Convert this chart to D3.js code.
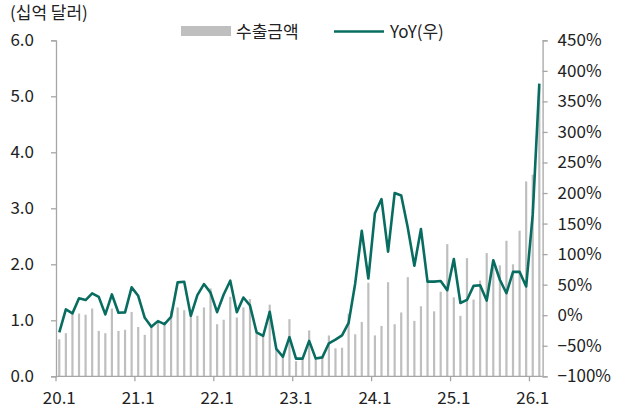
<!DOCTYPE html>
<html>
<head>
<meta charset="utf-8">
<script src="https://cdn.jsdelivr.net/npm/d3@7"></script>
<style>
  body { margin: 0; background: #fff; }
  text { font-family: "Noto Sans CJK KR", "Noto Sans", sans-serif; fill: #222; }
</style>
</head>
<body>
<div id="chart"></div>
<script>
// monthly labels 20.1 ~ 26.2
const months = [];
for (let y = 20; y <= 26; y++) {
  for (let m = 1; m <= 12; m++) {
    if (y === 26 && m > 2) break;
    months.push(y + "." + m);
  }
}

// export amount (billion USD)
const exports = [
  0.66, 0.77, 1.12, 1.12, 1.10, 1.21, 0.81, 0.77, 1.21, 0.81, 0.83, 1.15,
  0.88, 0.74, 0.88, 0.97, 0.94, 1.17, 1.23, 1.18, 1.15, 1.08, 1.23, 1.57,
  0.93, 1.01, 1.42, 1.05, 1.23, 1.38, 0.82, 0.74, 1.28, 0.48, 0.40, 1.02,
  0.27, 0.32, 0.82, 0.30, 0.36, 0.73, 0.50, 0.51, 1.12, 0.75, 0.97, 1.67,
  0.73, 0.90, 1.68, 0.93, 1.14, 1.77, 0.99, 1.25, 1.72, 1.16, 1.51, 2.36,
  1.41, 1.08, 2.11, 1.37, 1.71, 2.20, 1.95, 1.98, 2.42, 2.00, 2.60, 3.48,
  3.60, 5.17
];

// YoY (%) right axis
const yoy = [
  -28, 9.5, 3, 27.6, 24.8, 35.8, 30, 1.3, 34, 4, 4.6, 45.6,
  31.8, -4.3, -19, -9.7, -14.6, -2.7, 53.8, 54.8, -1, 33, 51, 37,
  5, 34, 56.5, 5, 29, 16, -28, -34, 5.6, -55, -68, -36,
  -71, -71, -42, -71, -69, -46, -40, -33, -12.5, 52, 138, 60,
  167, 190, 104, 200, 196, 143, 81, 141, 55, 55, 56, 41,
  92, 20, 25, 48, 49, 24, 90, 58, 36, 71, 71, 47,
  165, 379
];

const leftTicks = [0, 1, 2, 3, 4, 5, 6];
const rightTicks = [-100, -50, 0, 50, 100, 150, 200, 250, 300, 350, 400, 450];
const xLabels = ["20.1", "21.1", "22.1", "23.1", "24.1", "25.1", "26.1"];

const width = 618, height = 411;
const axisColor = "#a6a6a6";

const svg = d3.select("#chart").append("svg")
    .attr("width", width)
    .attr("height", height);

const x = d3.scaleBand()
    .domain(months)
    .range([56, 542.6]);

const yL = d3.scaleLinear().domain([0, 6]).range([376.3, 40.3]);
const yR = d3.scaleLinear().domain([-100, 450]).range([376.3, 40.3]);

// bars
const barW = 2.2;
svg.append("g")
  .selectAll("rect")
  .data(exports)
  .enter().append("rect")
    .attr("x", (d, i) => x(months[i]) + x.bandwidth() / 2 - barW / 2)
    .attr("y", d => yL(d))
    .attr("width", barW)
    .attr("height", d => yL(0) - yL(d))
    .style("fill", "#bfbfbf");

// left axis
const gL = svg.append("g")
    .attr("transform", "translate(56,0)")
    .call(d3.axisLeft(yL).tickValues(leftTicks).tickFormat(d3.format(".1f")).tickSize(5).tickPadding(17));

// right axis
const gR = svg.append("g")
    .attr("transform", "translate(542.6,0)")
    .call(d3.axisRight(yR).tickValues(rightTicks).tickFormat(d => d3.format("d")(d) + "%").tickSize(5).tickPadding(10));

[gL, gR].forEach(g => {
  g.select(".domain").attr("stroke", axisColor).attr("stroke-width", 1.3);
  g.selectAll(".tick line").attr("stroke", axisColor).attr("stroke-width", 1.3);
  g.selectAll(".tick text").style("font-size", "17px").attr("fill", "#222");
});

// bottom axis
const gB = svg.append("g");
gB.append("line")
    .attr("x1", 56).attr("x2", 542.6)
    .attr("y1", yL(0)).attr("y2", yL(0))
    .attr("stroke", axisColor).attr("stroke-width", 1.3);

xLabels.forEach(lbl => {
  const m = lbl.split(".")[0] + ".1";
  const x0 = x(m);
  gB.append("line")
      .attr("x1", x0).attr("x2", x0)
      .attr("y1", yL(0)).attr("y2", yL(0) + 5)
      .attr("stroke", axisColor).attr("stroke-width", 1.3);
  gB.append("text")
      .attr("x", x0 + x.bandwidth() / 2)
      .attr("y", 404)
      .attr("text-anchor", "middle")
      .style("font-size", "17px")
      .text(lbl);
});

// YoY line
const line = d3.line()
    .x((d, i) => x(months[i]) + x.bandwidth() / 2)
    .y(d => yR(d));

svg.append("path")
    .datum(yoy)
    .attr("d", line)
    .attr("fill", "none")
    .attr("stroke", "#086d60")
    .attr("stroke-width", 2.6)
    .attr("stroke-linejoin", "round");

// unit label
svg.append("text")
    .attr("x", 10)
    .attr("y", 19)
    .style("font-size", "17px")
    .text("(십억 달러)");

// legend
const legend = svg.append("g");
legend.append("rect")
    .attr("x", 181).attr("y", 26)
    .attr("width", 50).attr("height", 10)
    .style("fill", "#bfbfbf");
legend.append("text")
    .attr("x", 236).attr("y", 38)
    .style("font-size", "17px")
    .text("수출금액");
legend.append("line")
    .attr("x1", 334).attr("x2", 384)
    .attr("y1", 31.5).attr("y2", 31.5)
    .attr("stroke", "#086d60").attr("stroke-width", 2.6);
legend.append("text")
    .attr("x", 390).attr("y", 38)
    .style("font-size", "17px")
    .text("YoY(우)");
</script>
</body>
</html>
